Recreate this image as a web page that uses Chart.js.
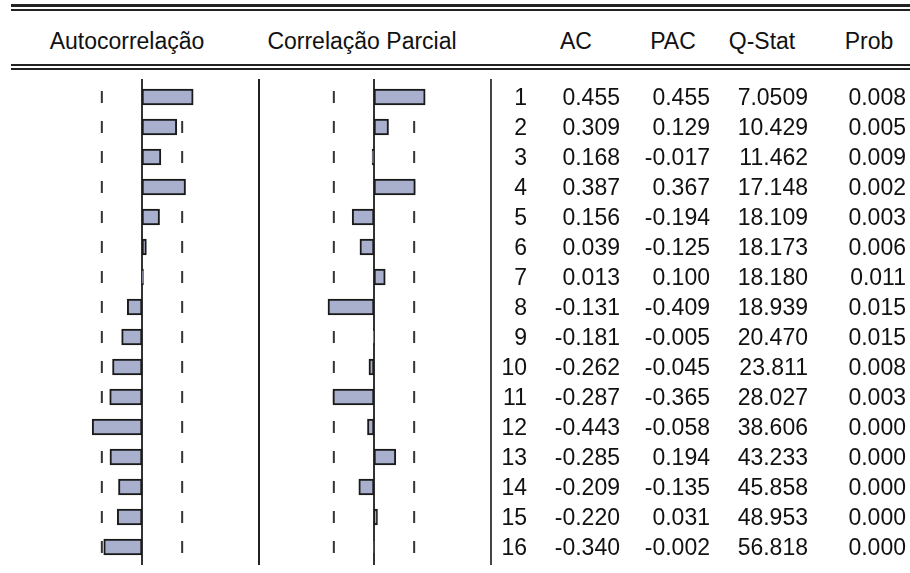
<!DOCTYPE html>
<html>
<head>
<meta charset="utf-8">
<script src="https://cdn.jsdelivr.net/npm/chart.js@4.4.1/dist/chart.umd.min.js"></script>
<style>
  body { margin: 0; width: 910px; height: 573px; background: #fff; position: relative; overflow: hidden;
         font-family: "Liberation Sans", Arial, sans-serif; color: #111; }
  .regua { position: absolute; left: 11px; right: 0; height: 2px; background: #222; }
  .vlinha { position: absolute; top: 79px; height: 486px; width: 2px; background: #222; }
  .cab { position: absolute; top: 26px; font-size: 23px; line-height: 30px; white-space: nowrap; transform: translateX(-50%); }
  canvas { position: absolute; top: 79px; }
  #tabela { position: absolute; left: 0; top: 82px; font-size: 23px; }
  .linha { position: relative; height: 30px; line-height: 30px; width: 910px; }
  .linha span { position: absolute; white-space: nowrap; transform: translateX(-100%); }
</style>
</head>
<body>
<div class="regua" style="top:4px; height:3px"></div>
<div class="regua" style="top:9px"></div>
<div class="regua" style="top:64px"></div>
<div class="regua" style="top:68px"></div>

<div class="cab" style="left:127px">Autocorrelação</div>
<div class="cab" style="left:362px">Correlação Parcial</div>
<div class="cab" style="left:576px">AC</div>
<div class="cab" style="left:673px">PAC</div>
<div class="cab" style="left:762px">Q-Stat</div>
<div class="cab" style="left:869px">Prob</div>

<div class="vlinha" style="left:258px"></div>
<div class="vlinha" style="left:490px; background:#444"></div>

<canvas id="acf" width="245" height="486" style="left:12px"></canvas>
<canvas id="pacf" width="227" height="486" style="left:262px"></canvas>

<div id="tabela"></div>

<script>
// dados do correlograma
const defasagens = [1, 2, 3, 4, 5, 6, 7, 8, 9, 10, 11, 12, 13, 14, 15, 16];
const ac = [0.455, 0.309, 0.168, 0.387, 0.156, 0.039, 0.013, -0.131, -0.181, -0.262, -0.287, -0.443, -0.285, -0.209, -0.220, -0.340];
const pac = [0.455, 0.129, -0.017, 0.367, -0.194, -0.125, 0.100, -0.409, -0.005, -0.045, -0.365, -0.058, 0.194, -0.135, 0.031, -0.002];
const qstat = ['7.0509', '10.429', '11.462', '17.148', '18.109', '18.173', '18.180', '18.939', '20.470', '23.811', '28.027', '38.606', '43.233', '45.858', '48.953', '56.818'];
const prob = ['0.008', '0.005', '0.009', '0.002', '0.003', '0.006', '0.011', '0.015', '0.015', '0.008', '0.003', '0.000', '0.000', '0.000', '0.000', '0.000'];
const banda = 0.357;

// linha vertical no zero
const eixoZero = {
  id: 'eixoZero',
  beforeDatasetsDraw(chart) {
    const x = chart.scales.x.getPixelForValue(0);
    const c = chart.ctx;
    c.save();
    c.strokeStyle = '#333';
    c.lineWidth = 2;
    c.beginPath();
    c.moveTo(x, 0);
    c.lineTo(x, chart.height);
    c.stroke();
    c.restore();
  }
};

function painel(id, valores, xmin, xmax) {
  const tracos = [];
  defasagens.forEach(d => {
    tracos.push({ x: -banda, y: String(d) });
    tracos.push({ x: banda, y: String(d) });
  });
  return new Chart(document.getElementById(id), {
    type: 'bar',
    data: {
      labels: defasagens.map(String),
      datasets: [
        { type: 'bar', data: valores, backgroundColor: '#a9b0cd', borderColor: '#1a1a1a',
          borderWidth: 2, borderSkipped: false, barThickness: 16, order: 1 },
        { type: 'scatter', data: tracos, pointStyle: 'line', pointRotation: 90, pointRadius: 6,
          pointBorderColor: '#333', pointBorderWidth: 2, order: 2 }
      ]
    },
    options: {
      indexAxis: 'y',
      responsive: false,
      animation: false,
      events: [],
      layout: { padding: { top: 3, bottom: 3 }, autoPadding: false },
      plugins: { legend: { display: false }, tooltip: { enabled: false } },
      scales: {
        x: { type: 'linear', display: false, min: xmin, max: xmax },
        y: { type: 'category', display: false }
      }
    },
    plugins: [eixoZero]
  });
}

painel('acf', ac, -1.1556, 1.0222);
painel('pacf', pac, -0.99556, 1.0222);

// tabela de valores
const colunas = [527, 620, 710, 808, 906];
const tabela = document.getElementById('tabela');
defasagens.forEach((d, i) => {
  const linha = document.createElement('div');
  linha.className = 'linha';
  const textos = [String(d), ac[i].toFixed(3), pac[i].toFixed(3), qstat[i], prob[i]];
  textos.forEach((t, j) => {
    const s = document.createElement('span');
    s.textContent = t;
    s.style.left = colunas[j] + 'px';
    linha.appendChild(s);
  });
  tabela.appendChild(linha);
});
</script>
</body>
</html>
